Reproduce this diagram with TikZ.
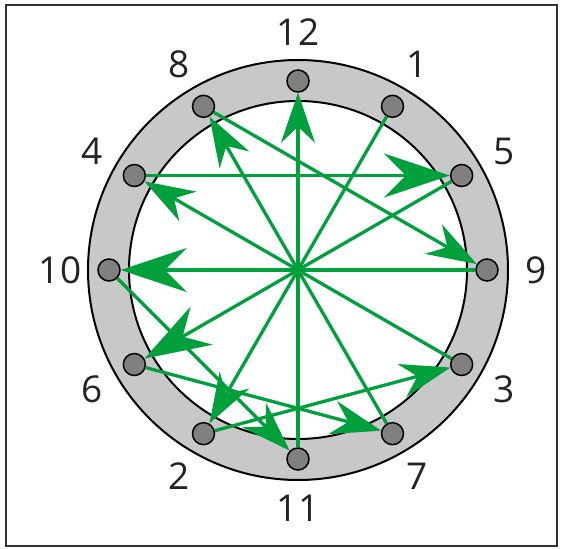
\documentclass[tikz,border=0pt]{standalone}
\usepackage{fontspec}
\setmainfont{Open Sans}
\usepackage{tikz}
\usetikzlibrary{arrows.meta}
\definecolor{wiregreen}{RGB}{0,160,60}
\definecolor{ringgray}{RGB}{200,200,200}
\definecolor{pingray}{RGB}{128,128,128}
\definecolor{numgray}{RGB}{35,35,35}
\definecolor{framegray}{RGB}{50,50,50}

\begin{document}
\begin{tikzpicture}[
  x=1pt,y=1pt,
  pin/.style={circle,draw,line width=1.5pt,fill=pingray,minimum size=22pt,inner sep=0pt},
  num/.style={font=\fontsize{37}{44}\selectfont,text=numgray,inner sep=0pt},
  wire/.style={draw=wiregreen,line width=3.3pt},
  arrow/.style={wire,-{Stealth[length=50pt,width=34pt,inset=16pt]}},
  bigarrow/.style={wire,-{Stealth[length=66pt,width=44pt,inset=22pt]}}
]
\useasboundingbox (-298,-278) rectangle (266,270);
\draw[line width=2pt,draw=framegray] (-292,-276) rectangle (259,265);
% ring
\fill[ringgray,even odd rule] (0,0) circle (210) (0,0) circle (169);
\draw[line width=2pt] (0,0) circle (210);
\draw[line width=2pt] (0,0) circle (169);
% pins and numbers
\foreach \n/\a in {12/90,1/60,5/30,9/0,3/-30,7/-60,11/-90,2/-120,6/-150,10/180,4/150,8/120} {
  \node[pin] (p\n) at (\a:189) {};
  \node[num] (n\n) at (\a:238) {\n};
}
% winding
\draw[arrow] (p1)--(p2);
\draw[arrow] (p2)--(p3);
\draw[arrow] (p3)--(p4);
\draw[bigarrow] (p4)--(p5);
\draw[bigarrow] (p5)--(p6);
\draw[arrow] (p6)--(p7);
\draw[arrow] (p7)--(p8);
\draw[arrow] (p8)--(p9);
\draw[bigarrow] (p9)--(p10);
\draw[arrow] (p10)--(p11);
\draw[arrow] (p11)--(p12);
\end{tikzpicture}
\end{document}
